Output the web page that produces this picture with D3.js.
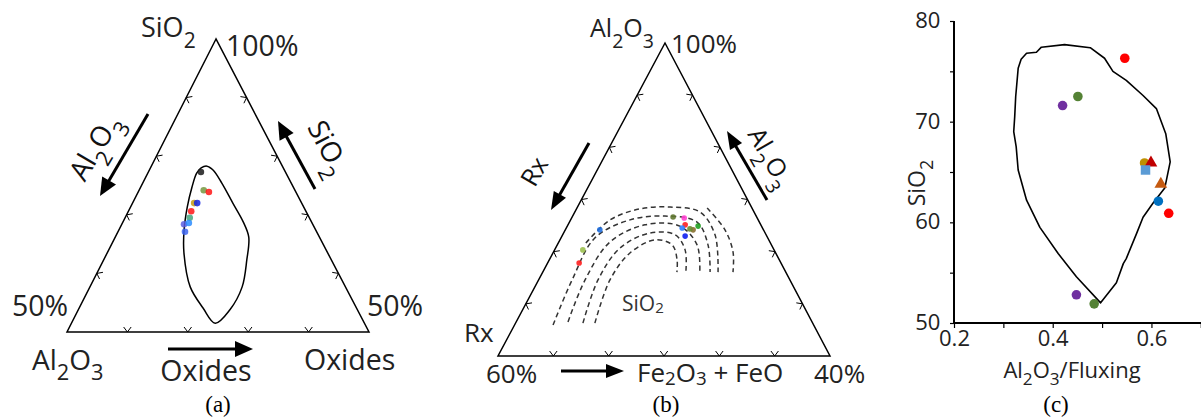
<!DOCTYPE html>
<html>
<head>
<meta charset="utf-8">
<script src="https://cdn.jsdelivr.net/npm/d3@7"></script>
<style>
  body { margin: 0; background: #fff; }
  svg { display: block; font-family: "Open Sans", sans-serif; }
  .serif { font-family: "Liberation Serif", serif; }
</style>
</head>
<body>
<svg id="fig" width="1201" height="418"></svg>
<script>
// ---- panel (a): SiO2 (50-100 %) at apex, Oxides (0-50 %) to the right ----
const aOutline = [
  [78.0, 8.4], [78.3, 9.2], [77.6, 10.6], [75.4, 13.1], [72.0, 16.6], [68.8, 19.9],
  [66.2, 22.1], [62.3, 23.7], [57.7, 25.2], [53.8, 25.1], [51.5, 23.8], [54.1, 20.5],
  [57.7, 16.6], [63.5, 12.7], [67.4, 10.8], [71.3, 9.4], [74.7, 8.5], [77.1, 8.1]
];
const aSiO2   = [77.3, 74.2, 73.9, 72.0, 72.0, 70.6, 69.5, 68.4, 68.6, 67.1];
const aOxides = [ 8.7, 10.7, 11.7, 10.2, 10.7, 10.4, 10.7, 10.3, 11.0, 11.1];
const aColors = ["#1a1a1a", "#74963e", "#ff1414", "#c49a10", "#1424e0",
                 "#ff1414", "#45a67e", "#5a5ee0", "#2a8cff", "#3c64f0"];

// ---- panel (b): normalised ternary %, Al2O3 at apex, Fe2O3+FeO to the right ----
const bTop   = [29.7, 33.9, 40.3, 44.4, 44.1, 41.9, 40.9, 38.3, 40.3, 41.5, 40.6];
const bRight = [ 9.5,  8.5, 10.4, 30.4, 33.9, 35.3, 34.9, 37.1, 38.5, 39.4, 37.4];
const bColors = ["#ff2020", "#9cc050", "#2070e0", "#607830", "#ff40d0", "#ff2020",
                 "#3080ff", "#1020f0", "#8a7030", "#20a020", "#6a8a30"];
const bGuides = [
  [[10.5, 23.9], [24.3, 21.5], [32.9, 23.2], [37.1, 28.6], [35.5, 34.6], [30.7, 38.5], [26.8, 40.4]],
  [[10.5, 20.3], [24.3, 17.9], [34.5, 19.4], [39.3, 26.0], [38.7, 33.9], [33.9, 39.3], [26.8, 43.1]],
  [[10.9, 15.6], [24.3, 14.0], [36.4, 15.4], [41.9, 23.2], [41.5, 33.9], [35.5, 42.1], [26.8, 47.3]],
  [[ 9.9, 11.6], [24.3, 10.1], [37.7, 10.2], [43.5, 17.9], [44.7, 27.8], [42.8, 38.4], [35.5, 45.4], [26.8, 50.4]],
  [[36.1,  8.3], [43.5, 11.9], [47.0, 19.1], [47.6, 27.9], [46.0, 37.7], [38.7, 45.9], [26.8, 52.8]],
  [[47.3, 39.2], [40.3, 48.1], [33.2, 54.1], [26.8, 57.3]]
];

// ---- panel (c): SiO2 vs Al2O3/Fluxing ----
const cOutline = [
  [0.497, 52.0], [0.529, 54.0], [0.543, 55.9], [0.549, 56.4], [0.570, 58.9], [0.583, 60.5],
  [0.603, 61.9], [0.627, 63.4], [0.638, 66.0], [0.629, 68.8], [0.610, 71.3], [0.583, 72.6],
  [0.549, 74.1], [0.522, 75.0], [0.505, 76.3], [0.476, 77.35], [0.424, 77.65], [0.377, 77.4],
  [0.367, 76.9], [0.347, 76.8], [0.336, 76.2], [0.330, 75.3], [0.325, 72.5], [0.323, 70.5],
  [0.321, 69.0], [0.326, 67.5], [0.330, 65.2], [0.347, 62.2], [0.374, 59.5], [0.411, 56.9],
  [0.448, 54.6]
];
const cRatio  = [0.546, 0.451, 0.420, 0.586, 0.599, 0.588, 0.619, 0.614, 0.635, 0.448, 0.484];
const cSiO2   = [76.3, 72.5, 71.6, 65.9, 65.9, 65.2, 63.8, 62.1, 60.9, 52.8, 51.9];
const cShape  = ["circle", "circle", "circle", "circle", "triangle", "square", "triangle",
                 "circle", "circle", "circle", "circle"];
const cColors = ["#ff0000", "#548235", "#7030a0", "#bf9000", "#c00000", "#5b9bd5", "#c55a11",
                 "#0070c0", "#ff0000", "#7030a0", "#548235"];
const cYTicks = [50, 55, 60, 65, 70, 75, 80];
const cXTicks = [0.2, 0.3, 0.4, 0.5, 0.6, 0.7];

const svg = d3.select("#fig");

// ternary helper: top value -> apex weight, right value -> right weight
function ternary(apex, left, right, topDomain, rightDomain) {
  const wTop = d3.scaleLinear().domain(topDomain).range([0, 1]);
  const wRight = d3.scaleLinear().domain(rightDomain).range([0, 1]);
  const f = (top, r) => {
    const a = wTop(top), b = wRight(r), c = 1 - a - b;
    return [a * apex[0] + b * right[0] + c * left[0], a * apex[1] + b * right[1] + c * left[1]];
  };
  f.corners = [apex, left, right];
  return f;
}

function drawFrame(g, proj, n) {
  const [A, L, R] = proj.corners;
  g.append("path").attr("d", d3.line()([A, L, R]) + "Z")
    .attr("fill", "none").attr("stroke", "#000").attr("stroke-width", 1.5);
  const cx = (A[0] + L[0] + R[0]) / 3, cy = (A[1] + L[1] + R[1]) / 3;
  [[L, R], [L, A], [R, A]].forEach(([P, Q]) => {
    d3.range(1, n).forEach(i => {
      const t = i / n;
      const x = P[0] + t * (Q[0] - P[0]), y = P[1] + t * (Q[1] - P[1]);
      const nx = cx - x, ny = cy - y;
      const ex = Q[0] - P[0], ey = Q[1] - P[1], el = Math.hypot(ex, ey);
      // inward normal
      let ux = -ey / el, uy = ex / el;
      if (ux * nx + uy * ny < 0) { ux = -ux; uy = -uy; }
      const s = 5, k = 0.75;
      const p1 = [x + s * (ux + k * ex / el), y + s * (uy + k * ey / el)];
      const p2 = [x + s * (ux - k * ex / el), y + s * (uy - k * ey / el)];
      g.append("path").attr("d", d3.line()([p1, [x, y], p2]))
        .attr("fill", "none").attr("stroke", "#000").attr("stroke-width", 1);
    });
  });
}

function arrow(g, x1, y1, x2, y2, hl, hw) {
  const dx = x2 - x1, dy = y2 - y1, l = Math.hypot(dx, dy);
  const ux = dx / l, uy = dy / l;
  const bx = x2 - ux * hl, by = y2 - uy * hl;
  g.append("line").attr("x1", x1).attr("y1", y1).attr("x2", bx + ux).attr("y2", by + uy)
    .attr("stroke", "#000").attr("stroke-width", 3);
  g.append("path")
    .attr("d", d3.line()([[x2, y2], [bx - uy * hw, by + ux * hw], [bx + uy * hw, by - ux * hw]]) + "Z")
    .attr("fill", "#000");
}

// text with subscripts: parts = [[string, isSub], ...]
function chem(g, x, y, parts, size, opts = {}) {
  const t = g.append("text").attr("x", x).attr("y", y)
    .attr("font-size", size).attr("fill", opts.fill || "#222")
    .attr("text-anchor", opts.anchor || "start");
  if (opts.rotate !== undefined) t.attr("transform", `rotate(${opts.rotate},${x},${y})`);
  const drop = opts.drop !== undefined ? opts.drop : 0.42;
  const subSize = opts.subSize || 0.78;
  let down = false;
  parts.forEach(([s, sub]) => {
    const sp = t.append("tspan").text(s);
    if (sub && !down) { sp.attr("dy", (drop * size) + "px").attr("font-size", size * subSize); down = true; }
    else if (!sub && down) { sp.attr("dy", (-drop * size) + "px"); down = false; }
    else if (sub) sp.attr("font-size", size * subSize);
  });
  return t;
}

function label(g, x, y, s, size, anchor) {
  return g.append("text").attr("x", x).attr("y", y).attr("font-size", size)
    .attr("fill", "#222").attr("text-anchor", anchor || "start").text(s);
}

function panelTag(g, x, s) {
  g.append("text").attr("class", "serif").attr("x", x).attr("y", 412).attr("font-size", 23)
    .attr("text-anchor", "middle").text(s);
}

// ================= panel (a) =================
const ga = svg.append("g");
const projA = ternary([216, 39], [67, 332], [369, 332], [50, 100], [0, 50]);
drawFrame(ga, projA, 5);

ga.append("path")
  .attr("d", d3.line().curve(d3.curveCatmullRomClosed.alpha(0.5))(aOutline.map(d => projA(d[0], d[1]))))
  .attr("fill", "none").attr("stroke", "#000").attr("stroke-width", 1.5);

ga.selectAll("circle.pt").data(aSiO2).join("circle").attr("class", "pt")
  .attr("cx", (d, i) => projA(d, aOxides[i])[0])
  .attr("cy", (d, i) => projA(d, aOxides[i])[1])
  .attr("r", 3.3).attr("fill", (d, i) => aColors[i]).attr("opacity", 0.85);

chem(ga, 141, 37, [["SiO", 0], ["2", 1]], 27);
label(ga, 226, 56, "100%", 28.5);
label(ga, 12, 316, "50%", 28.5);
label(ga, 367, 316, "50%", 28.5);
chem(ga, 32, 370, [["Al", 0], ["2", 1], ["O", 0], ["3", 1]], 28, { drop: 0.36 });
label(ga, 304, 370, "Oxides", 28.5);
label(ga, 206, 381, "Oxides", 28.5, "middle");
arrow(ga, 168, 349, 253, 349, 18, 8);
arrow(ga, 148, 114, 100, 196, 18, 8);
arrow(ga, 315, 189, 278, 121, 18, 8);
chem(ga, 103, 152, [["Al", 0], ["2", 1], ["O", 0], ["3", 1]], 28, { anchor: "middle", rotate: -59.5, fill: "#111" });
chem(ga, 320, 152, [["SiO", 0], ["2", 1]], 28, { anchor: "middle", rotate: 62.4, fill: "#111" });
panelTag(ga, 218, "(a)");

// ================= panel (b) =================
const gb = svg.append("g");
const projB = ternary([665, 43], [498, 356], [830, 356], [0, 100], [0, 100]);
drawFrame(gb, projB, 6);

gb.selectAll("path.guide").data(bGuides).join("path").attr("class", "guide")
  .attr("d", d => d3.line().curve(d3.curveCatmullRom.alpha(0.5))(d.map(p => projB(p[0], p[1]))))
  .attr("fill", "none").attr("stroke", "#333").attr("stroke-width", 1.5)
  .attr("stroke-dasharray", "5,3.5");

gb.selectAll("circle.pt").data(bTop).join("circle").attr("class", "pt")
  .attr("cx", (d, i) => projB(d, bRight[i])[0])
  .attr("cy", (d, i) => projB(d, bRight[i])[1])
  .attr("r", 2.8).attr("fill", (d, i) => bColors[i]).attr("opacity", 0.9);

chem(gb, 590, 37, [["Al", 0], ["2", 1], ["O", 0], ["3", 1]], 25);
label(gb, 671, 53, "100%", 26);
label(gb, 464, 342, "Rx", 26);
label(gb, 486, 383, "60%", 26);
label(gb, 814, 383, "40%", 26);
chem(gb, 637, 382, [["Fe", 0], ["2", 1], ["O", 0], ["3", 1], [" + FeO", 0]], 26, { drop: 0.1, subSize: 0.72 });
chem(gb, 622, 311, [["SiO", 0], ["2", 1]], 21, { drop: 0.1, subSize: 0.72, fill: "#333" });
arrow(gb, 561, 371, 624, 371, 18, 7);
arrow(gb, 589, 143, 551, 210, 18, 7);
arrow(gb, 767, 200, 727, 131, 18, 7);
gb.append("text").attr("x", 542).attr("y", 176).attr("font-size", 25).attr("fill", "#111")
  .attr("text-anchor", "middle").attr("transform", "rotate(-60,542,176)").text("Rx");
chem(gb, 763, 162, [["Al", 0], ["2", 1], ["O", 0], ["3", 1]], 25, { anchor: "middle", rotate: 60, fill: "#111" });
panelTag(gb, 666, "(b)");

// ================= panel (c) =================
const gc = svg.append("g");
const x = d3.scaleLinear().domain([0.2, 0.7]).range([954, 1200.8]);
const y = d3.scaleLinear().domain([50, 80]).range([323, 21]);

const xAxis = gc.append("g").attr("transform", "translate(0,323)")
  .call(d3.axisBottom(x).tickValues(cXTicks).tickSize(5).tickFormat(d => [0.2, 0.4, 0.6].includes(d) ? d3.format(".1f")(d) : ""));
const yAxis = gc.append("g").attr("transform", "translate(954,0)")
  .call(d3.axisLeft(y).tickValues(cYTicks).tickSize(4).tickFormat(d => d % 10 === 0 ? d : ""));
[xAxis, yAxis].forEach(ax => {
  ax.select(".domain").attr("stroke-width", 2);
  ax.selectAll(".tick line").attr("stroke-width", 1.2);
  ax.selectAll("text").attr("font-size", 22).attr("font-family", "Open Sans").attr("fill", "#222");
});
xAxis.select(".domain").attr("d", "M954,0H1201");
yAxis.select(".domain").attr("d", "M0,21V324");
xAxis.selectAll(".tick text").attr("dy", "0.7em");
yAxis.selectAll(".tick text").attr("dx", "-0.3em").attr("dy", "0.3em");

gc.append("path")
  .attr("d", d3.line().x(d => x(d[0])).y(d => y(d[1])).curve(d3.curveLinearClosed)(cOutline))
  .attr("fill", "none").attr("stroke", "#000").attr("stroke-width", 1.6).attr("stroke-linejoin", "round");

const sym = { circle: d3.symbolCircle, triangle: d3.symbolTriangle, square: d3.symbolSquare };
const symSize = { circle: 72, triangle: 70, square: 90 };
gc.selectAll("path.pt").data(cRatio).join("path").attr("class", "pt")
  .attr("transform", (d, i) => `translate(${x(d)},${y(cSiO2[i])})`)
  .attr("d", (d, i) => d3.symbol(sym[cShape[i]], symSize[cShape[i]])())
  .attr("fill", (d, i) => cColors[i]);

chem(gc, 1072, 378, [["Al", 0], ["2", 1], ["O", 0], ["3", 1], ["/Fluxing", 0]], 22, { anchor: "middle", drop: 0.3 });
chem(gc, 925, 183, [["SiO", 0], ["2", 1]], 23, { anchor: "middle", rotate: -90, drop: 0.35 });
panelTag(gc, 1056, "(c)");
</script>
</body>
</html>
